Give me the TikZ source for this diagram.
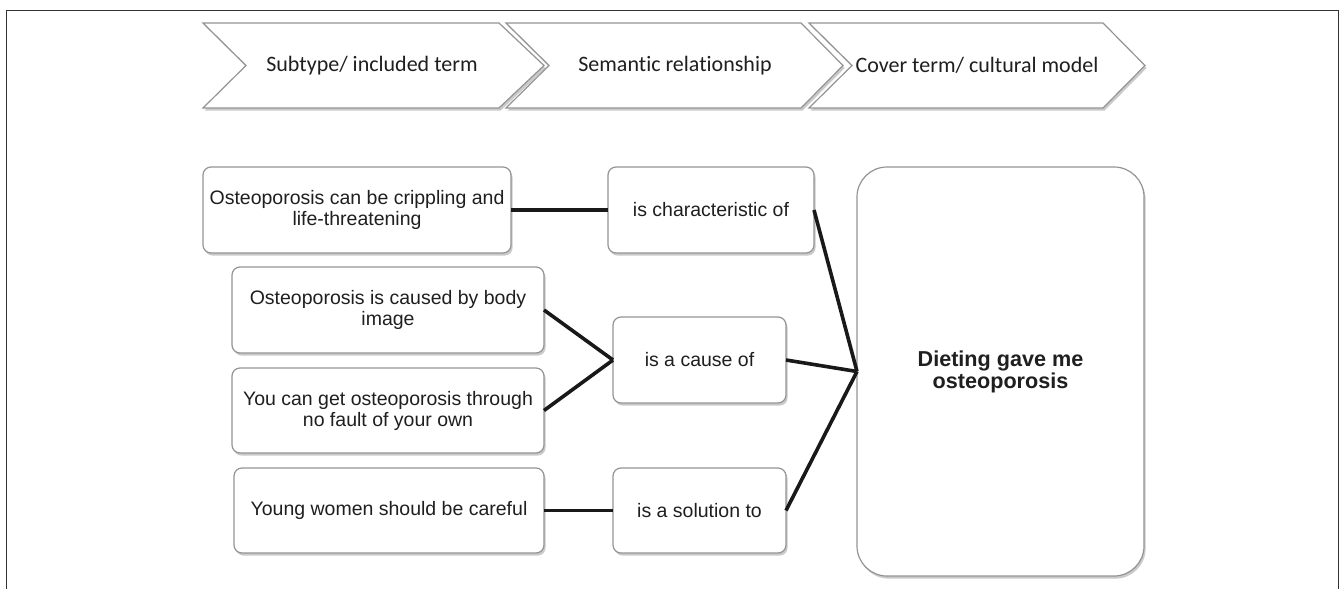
\documentclass[tikz,border=0pt]{standalone}
\usepackage{fontspec}
\setmainfont{Liberation Sans}
\newfontfamily\calib[Ligatures={NoCommon}]{Carlito}
\usetikzlibrary{shadows}
\definecolor{txt}{HTML}{1F1F1F}
\definecolor{edge}{HTML}{949494}
\begin{document}
\begin{tikzpicture}[x=0.5pt,y=-0.5pt,
  shadowed/.style={drop shadow={shadow xshift=0.8pt,shadow yshift=-1.3pt,opacity=0.35,fill=black!60}},
  rbox/.style={draw=edge,fill=white,line width=0.6pt,rounded corners=4pt,shadowed,
    inner sep=0pt,outer sep=0pt,align=center,text=txt,
    font=\fontsize{9.75pt}{10.5pt}\selectfont},
  bigbox/.style={rbox,rounded corners=15pt,font=\bfseries\fontsize{10.8pt}{11pt}\selectfont},
  chev/.style={draw=edge,fill=white,line width=0.6pt,shadowed},
  chevtext/.style={text=txt,font=\calib\fontsize{11pt}{13pt}\selectfont,inner sep=0pt},
  link/.style={line width=1.8pt,draw=black!90},
  frame/.style={line width=0.5pt,draw=black!80}]
\useasboundingbox (0,0) rectangle (1340,589);
\draw[frame] (6,589) -- (6,10) -- (1338,10) -- (1338,589);
% chevrons
\draw[chev] (203,23) -- (499,23) -- (544,65.5) -- (499,108) -- (203,108) -- (246,65.5) -- cycle;
\draw[chev] (506,23) -- (801,23) -- (843,65.5) -- (801,108) -- (506,108) -- (549,65.5) -- cycle;
\draw[chev] (809,23) -- (1103,23) -- (1145,65.5) -- (1103,108) -- (809,108) -- (852,65.5) -- cycle;
\node[chevtext] (h1) at (372,65.5) {Subtype/ included term};
\node[chevtext] (h2) at (675,65.5) {Semantic relationship};
\node[chevtext] (h3) at (977,65.5) {Cover term/ cultural model};
% boxes
\node[rbox,minimum width=154pt,minimum height=43pt] (A) at (357,210) {Osteoporosis can be crippling and\\life-threatening};
\node[rbox,minimum width=103pt,minimum height=43pt] (R1) at (711,210) {is characteristic of};
\node[rbox,minimum width=156pt,minimum height=43pt] (B) at (388,310) {Osteoporosis is caused by body\\image};
\node[rbox,minimum width=156pt,minimum height=42.5pt] (C) at (388,410.5) {You can get osteoporosis through\\no fault of your own};
\node[rbox,minimum width=155pt,minimum height=42.5pt] (E) at (389,510.5) {Young women should be careful};
\node[rbox,minimum width=86.5pt,minimum height=43pt] (R2) at (699.5,360) {is a cause of};
\node[rbox,minimum width=86.5pt,minimum height=42.5pt] (R3) at (699.5,510.5) {is a solution to};
\node[bigbox,minimum width=143.5pt,minimum height=204.5pt] (D) at (1000.5,371.5) {Dieting gave me\\osteoporosis};
% connectors
\draw[link] (A.east) -- (R1.west);
\draw[link] (B.east) -- (R2.west);
\draw[link] (C.east) -- (R2.west);
\draw[link] (E.east) -- (R3.west);
\draw[link] (R1.east) -- (D.west);
\draw[link] (R2.east) -- (D.west);
\draw[link] (R3.east) -- (D.west);
\end{tikzpicture}
\end{document}
